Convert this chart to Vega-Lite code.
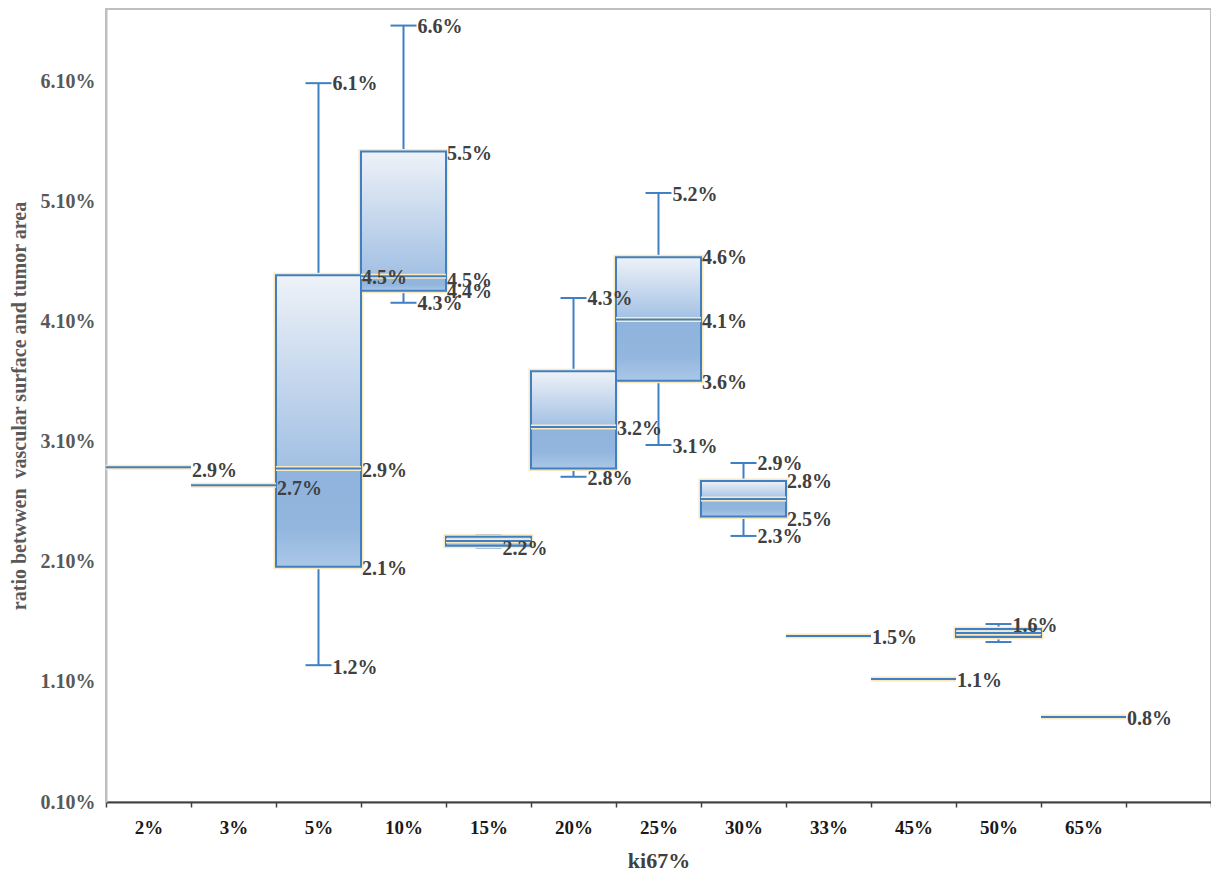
{
  "$schema": "https://vega.github.io/schema/vega-lite/v6.json",
  "width": 1105,
  "height": 793,
  "autosize": {"type": "none"},
  "padding": {"left": 106, "top": 9, "right": 0, "bottom": 72},
  "background": "white",
  "config": {
    "view": {"stroke": "#bfbfbf", "strokeWidth": 2},
    "font": "Liberation Serif"
  },
  "datasets": {
    "boxes": [
      {"cat": "2%", "med": 2.89},
      {"cat": "3%", "med": 2.74},
      {"cat": "5%", "min": 1.24, "q1": 2.06, "med": 2.88, "q3": 4.49, "max": 6.09},
      {"cat": "10%", "min": 4.26, "q1": 4.36, "med": 4.48, "q3": 5.52, "max": 6.57},
      {"cat": "15%", "min": 2.22, "q1": 2.235, "med": 2.275, "q3": 2.31, "max": 2.325},
      {"cat": "20%", "min": 2.81, "q1": 2.88, "med": 3.225, "q3": 3.69, "max": 4.3},
      {"cat": "25%", "min": 3.075, "q1": 3.61, "med": 4.12, "q3": 4.64, "max": 5.175},
      {"cat": "30%", "min": 2.317, "q1": 2.48, "med": 2.625, "q3": 2.775, "max": 2.925},
      {"cat": "33%", "med": 1.483},
      {"cat": "45%", "med": 1.125},
      {"cat": "50%", "min": 1.433, "q1": 1.475, "med": 1.508, "q3": 1.542, "max": 1.583},
      {"cat": "65%", "med": 0.808}
    ],
    "edgeLabels": [
      {"cat": "2%", "pos": 2.86, "label": "2.9%"},
      {"cat": "3%", "pos": 2.71, "label": "2.7%"},
      {"cat": "5%", "pos": 4.47, "label": "4.5%"},
      {"cat": "5%", "pos": 2.86, "label": "2.9%"},
      {"cat": "5%", "pos": 2.04, "label": "2.1%"},
      {"cat": "10%", "pos": 5.5, "label": "5.5%"},
      {"cat": "10%", "pos": 4.44, "label": "4.5%"},
      {"cat": "10%", "pos": 4.35, "label": "4.4%"},
      {"cat": "20%", "pos": 3.21, "label": "3.2%"},
      {"cat": "25%", "pos": 4.63, "label": "4.6%"},
      {"cat": "25%", "pos": 4.1, "label": "4.1%"},
      {"cat": "25%", "pos": 3.59, "label": "3.6%"},
      {"cat": "30%", "pos": 2.77, "label": "2.8%"},
      {"cat": "30%", "pos": 2.45, "label": "2.5%"},
      {"cat": "33%", "pos": 1.47, "label": "1.5%"},
      {"cat": "45%", "pos": 1.11, "label": "1.1%"},
      {"cat": "65%", "pos": 0.79, "label": "0.8%"}
    ],
    "capLabels": [
      {"cat": "5%", "pos": 6.08, "label": "6.1%"},
      {"cat": "5%", "pos": 1.22, "label": "1.2%"},
      {"cat": "10%", "pos": 6.56, "label": "6.6%"},
      {"cat": "10%", "pos": 4.25, "label": "4.3%"},
      {"cat": "15%", "pos": 2.21, "label": "2.2%"},
      {"cat": "20%", "pos": 4.29, "label": "4.3%"},
      {"cat": "20%", "pos": 2.79, "label": "2.8%"},
      {"cat": "25%", "pos": 5.16, "label": "5.2%"},
      {"cat": "25%", "pos": 3.06, "label": "3.1%"},
      {"cat": "30%", "pos": 2.92, "label": "2.9%"},
      {"cat": "30%", "pos": 2.31, "label": "2.3%"},
      {"cat": "50%", "pos": 1.567, "label": "1.6%"}
    ]
  },
  "encoding": {
    "x": {
      "field": "cat",
      "type": "nominal",
      "sort": null,
      "scale": {
        "domain": ["2%", "3%", "5%", "10%", "15%", "20%", "25%", "30%", "33%", "45%", "50%", "65%", " "],
        "paddingInner": 0,
        "paddingOuter": 0
      },
      "axis": {
        "title": "ki67%",
        "titleFont": "Liberation Serif",
        "titleFontSize": 22,
        "titleFontWeight": "bold",
        "titleColor": "#404040",
        "titlePadding": 13,
        "labelAngle": 0,
        "labelFont": "Liberation Serif",
        "labelFontSize": 19,
        "labelFontWeight": "bold",
        "labelColor": "#1a1a1a",
        "labelPadding": 11,
        "domainColor": "#404040",
        "domainWidth": 2,
        "tickBand": "extent",
        "tickColor": "#404040",
        "tickWidth": 1.5,
        "tickSize": 5,
        "grid": false
      }
    }
  },
  "layer": [
    {
      "data": {"name": "boxes"},
      "mark": {"type": "rule", "color": "#3f80c4", "strokeWidth": 2},
      "encoding": {
        "y": {
          "field": "min",
          "type": "quantitative",
          "scale": {"domain": [0.1, 6.708], "nice": false, "zero": false},
          "axis": {
            "title": "ratio betwwen\u00a0 vascular surface and tumor area",
            "titleFont": "Liberation Serif",
            "titleFontSize": 20,
            "titleFontWeight": "bold",
            "titleColor": "#595959",
            "titlePadding": 11,
            "values": [0.1, 1.1, 2.1, 3.1, 4.1, 5.1, 6.1],
            "labelExpr": "format(datum.value, '.2f') + '%'",
            "labelFont": "Liberation Serif",
            "labelFontSize": 20,
            "labelFontWeight": "bold",
            "labelColor": "#595959",
            "labelPadding": 11,
            "ticks": false,
            "domainColor": "#bfbfbf",
            "domainWidth": 2,
            "grid": false
          }
        },
        "y2": {"field": "max"}
      }
    },
    {
      "data": {"name": "boxes"},
      "mark": {"type": "tick", "color": "#3f80c4", "thickness": 2, "size": 26, "opacity": 1},
      "encoding": {"y": {"field": "min", "type": "quantitative"}}
    },
    {
      "data": {"name": "boxes"},
      "mark": {"type": "tick", "color": "#3f80c4", "thickness": 2, "size": 26, "opacity": 1},
      "encoding": {"y": {"field": "max", "type": "quantitative"}}
    },
    {
      "data": {"name": "boxes"},
      "mark": {"type": "bar", "fill": null, "fillOpacity": 0, "stroke": "#fbe8bd", "strokeWidth": 5},
      "encoding": {
        "y": {"field": "q3", "type": "quantitative"},
        "y2": {"field": "q1"}
      }
    },
    {
      "data": {"name": "boxes"},
      "mark": {
        "type": "bar",
        "fill": {
          "gradient": "linear", "x1": 0, "y1": 0, "x2": 0, "y2": 1,
          "stops": [
            {"offset": 0, "color": "#eef2f8"},
            {"offset": 1, "color": "#a2c0e3"}
          ]
        },
        "stroke": "#3f80c4",
        "strokeWidth": 2
      },
      "encoding": {
        "y": {"field": "q3", "type": "quantitative"},
        "y2": {"field": "med"}
      }
    },
    {
      "data": {"name": "boxes"},
      "mark": {
        "type": "bar",
        "fill": {
          "gradient": "linear", "x1": 0, "y1": 0, "x2": 0, "y2": 1,
          "stops": [
            {"offset": 0, "color": "#8fb3dd"},
            {"offset": 0.6, "color": "#93b6de"},
            {"offset": 1, "color": "#abc7e7"}
          ]
        },
        "stroke": "#3f80c4",
        "strokeWidth": 2
      },
      "encoding": {
        "y": {"field": "med", "type": "quantitative"},
        "y2": {"field": "q1"}
      }
    },
    {
      "data": {"name": "boxes"},
      "mark": {"type": "tick", "color": "#fbe8bd", "thickness": 5, "size": 85, "opacity": 1},
      "encoding": {"y": {"field": "med", "type": "quantitative"}}
    },
    {
      "data": {"name": "boxes"},
      "mark": {"type": "tick", "color": "#3f80c4", "thickness": 2, "size": 85, "opacity": 1},
      "encoding": {"y": {"field": "med", "type": "quantitative"}}
    },
    {
      "data": {"name": "edgeLabels"},
      "mark": {
        "type": "text",
        "align": "left",
        "baseline": "middle",
        "dx": 43.5,
        "font": "Liberation Serif",
        "fontSize": 20,
        "fontWeight": "bold",
        "color": "#404040"
      },
      "encoding": {
        "y": {"field": "pos", "type": "quantitative"},
        "text": {"field": "label", "type": "nominal"}
      }
    },
    {
      "data": {"name": "capLabels"},
      "mark": {
        "type": "text",
        "align": "left",
        "baseline": "middle",
        "dx": 14,
        "font": "Liberation Serif",
        "fontSize": 20,
        "fontWeight": "bold",
        "color": "#404040"
      },
      "encoding": {
        "y": {"field": "pos", "type": "quantitative"},
        "text": {"field": "label", "type": "nominal"}
      }
    }
  ]
}
